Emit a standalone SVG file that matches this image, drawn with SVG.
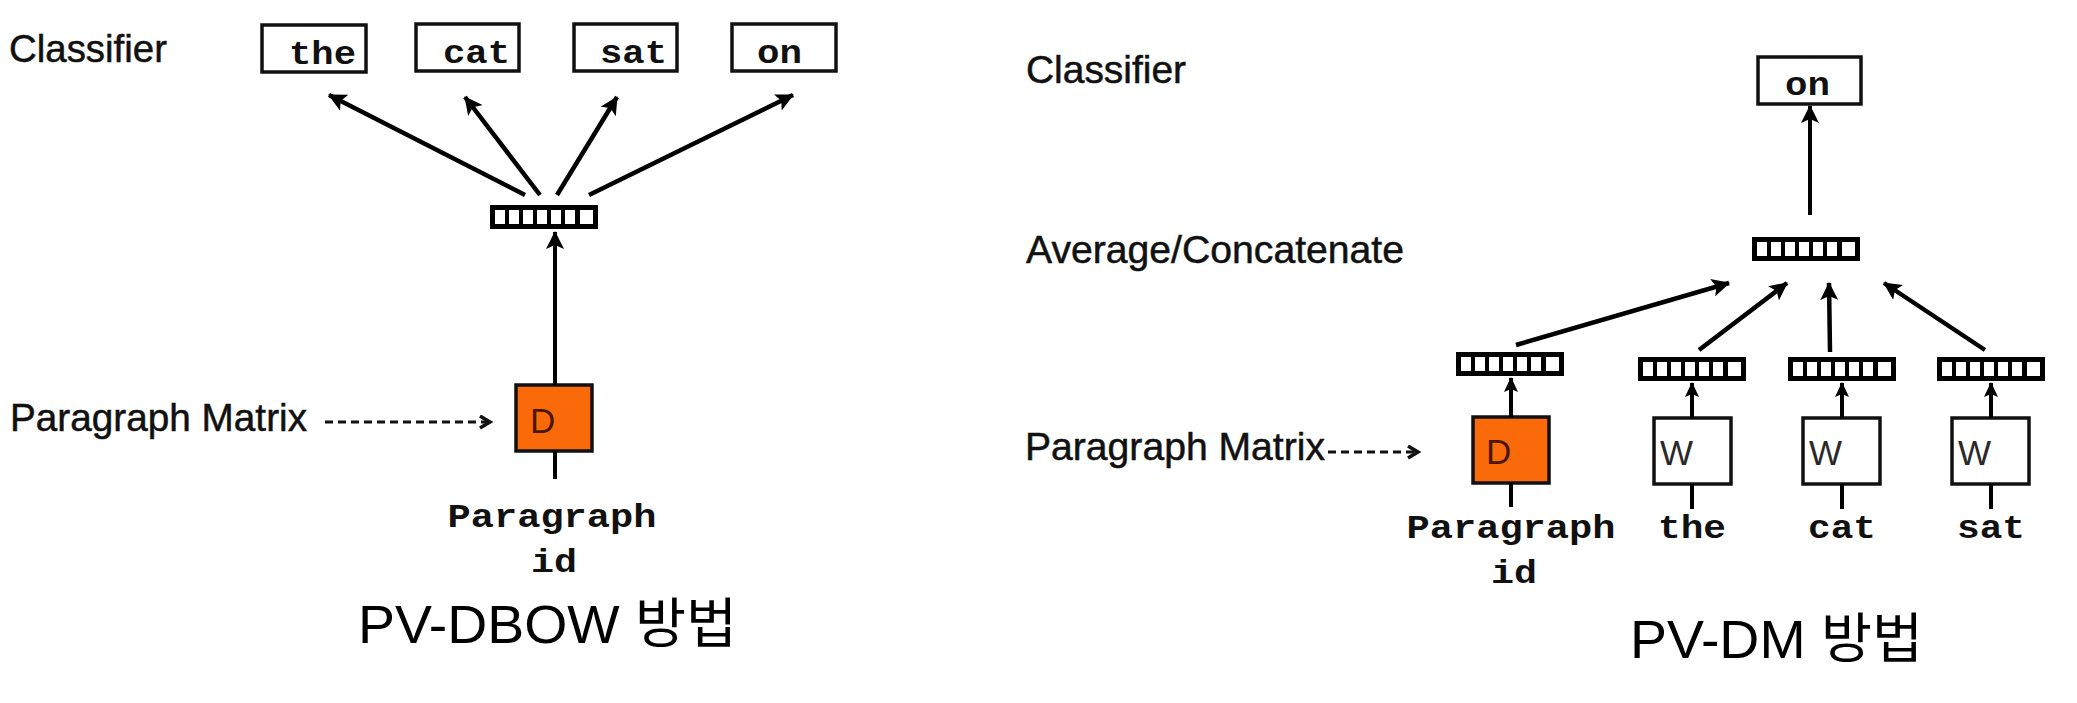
<svg xmlns="http://www.w3.org/2000/svg" width="2077" height="703" viewBox="0 0 2077 703">
<style>
.lbl{font-family:"Liberation Sans",Arial,sans-serif;font-size:38px;fill:#111;stroke:#111;stroke-width:0.5}
.mono{font-family:"Liberation Mono","Courier New",monospace;font-weight:bold;font-size:34px;fill:#111}
.title{font-family:"Liberation Sans","Noto Sans CJK KR",sans-serif;font-size:54px;fill:#000}
.wbox{fill:#fff;stroke:#111;stroke-width:3.5}
.dbox{fill:#fa6a0a;stroke:#111;stroke-width:3.5}
.ebox{fill:#fff;stroke:#111;stroke-width:3.5}
.conn{stroke:#000;stroke-width:4.5;fill:none}
.thin{stroke:#000;stroke-width:4;fill:none}
.dash{stroke:#111;stroke-width:3;stroke-dasharray:8 5;fill:none}
.letter{font-family:"Liberation Sans",Arial,sans-serif;font-size:35px}
</style>
<defs>
<marker id="ah" markerUnits="userSpaceOnUse" markerWidth="20" markerHeight="18" refX="17" refY="9" orient="auto"><path d="M0,0 L18,9 L0,18 L4,9 z" fill="#000"/></marker>
<marker id="ahs" markerUnits="userSpaceOnUse" markerWidth="16" markerHeight="16" refX="14" refY="7" orient="auto"><path d="M0,0 L15,7 L0,14 L3,7 z" fill="#000"/></marker>
<marker id="chev" markerUnits="userSpaceOnUse" markerWidth="14" markerHeight="16" refX="11" refY="7" orient="auto"><path d="M1,1 L11,7 L1,13" fill="none" stroke="#111" stroke-width="3.5"/></marker>
<g id="vec">
<rect x="0" y="0" width="108" height="24" fill="#000"/>
<rect x="5" y="5" width="10" height="14" fill="#fff"/>
<rect x="19" y="5" width="10" height="14" fill="#fff"/>
<rect x="33" y="5" width="10" height="14" fill="#fff"/>
<rect x="47" y="5" width="10" height="14" fill="#fff"/>
<rect x="61" y="5" width="10" height="14" fill="#fff"/>
<rect x="75" y="5" width="10" height="14" fill="#fff"/>
<rect x="89" y="5" width="14" height="14" fill="#fff"/>
<rect x="88" y="5" width="2" height="14" fill="#000"/>
</g>
</defs>
<rect width="2077" height="703" fill="#fff"/>

<!-- Left: PV-DBOW -->
<g id="labels-left">
<text class="lbl" x="9" y="62" textLength="158" lengthAdjust="spacingAndGlyphs">Classifier</text>
<text class="lbl" x="10" y="431" textLength="297" lengthAdjust="spacingAndGlyphs">Paragraph Matrix</text>
</g>
<g id="l-the"><rect class="wbox" x="262" y="25" width="104" height="47"/><text class="mono" x="289" y="64" textLength="67" lengthAdjust="spacingAndGlyphs">the</text></g>
<g id="l-cat"><rect class="wbox" x="416" y="24" width="103" height="47"/><text class="mono" x="443" y="63" textLength="67" lengthAdjust="spacingAndGlyphs">cat</text></g>
<g id="l-sat"><rect class="wbox" x="574" y="24" width="103" height="47"/><text class="mono" x="600" y="63" textLength="67" lengthAdjust="spacingAndGlyphs">sat</text></g>
<g id="l-on"><rect class="wbox" x="732" y="24" width="104" height="47"/><text class="mono" x="757" y="63" textLength="45" lengthAdjust="spacingAndGlyphs">on</text></g>
<g id="l-vec"><use href="#vec" x="490" y="205"/></g>
<g id="l-D"><rect class="dbox" x="516" y="385" width="76" height="66"/><text class="letter" x="530" y="433" fill="#4a1600">D</text></g>
<g id="l-pid">
<text class="mono" x="552" y="527" text-anchor="middle" textLength="209" lengthAdjust="spacingAndGlyphs">Paragraph</text>
<text class="mono" x="554" y="572" text-anchor="middle" textLength="46" lengthAdjust="spacingAndGlyphs">id</text>
</g>
<g id="l-title"><text class="title" x="358" y="643" textLength="379" lengthAdjust="spacingAndGlyphs">PV-DBOW 방법</text></g>

<!-- Right: PV-DM -->
<g id="labels-right">
<text class="lbl" x="1026" y="83" textLength="160" lengthAdjust="spacingAndGlyphs">Classifier</text>
<text class="lbl" x="1026" y="263" textLength="378" lengthAdjust="spacingAndGlyphs">Average/Concatenate</text>
<text class="lbl" x="1025" y="460" textLength="300" lengthAdjust="spacingAndGlyphs">Paragraph Matrix</text>
</g>
<g id="r-on"><rect class="wbox" x="1758" y="57" width="103" height="47"/><text class="mono" x="1785" y="95" textLength="45" lengthAdjust="spacingAndGlyphs">on</text></g>
<g id="r-vec"><use href="#vec" x="1752" y="237"/></g>
<g id="r-vp"><use href="#vec" x="1456" y="352"/></g>
<g id="r-vthe"><use href="#vec" x="1638" y="357"/></g>
<g id="r-vcat"><use href="#vec" x="1788" y="357"/></g>
<g id="r-vsat"><use href="#vec" x="1937" y="357"/></g>
<g id="r-D"><rect class="dbox" x="1473" y="417" width="76" height="66"/><text class="letter" x="1486" y="464" fill="#4a1600">D</text></g>
<g id="r-Wthe"><rect class="ebox" x="1654" y="418" width="77" height="66"/><text class="letter" x="1660" y="465" fill="#2a2a2a">W</text></g>
<g id="r-Wcat"><rect class="ebox" x="1803" y="418" width="77" height="66"/><text class="letter" x="1809" y="465" fill="#2a2a2a">W</text></g>
<g id="r-Wsat"><rect class="ebox" x="1952" y="418" width="77" height="66"/><text class="letter" x="1958" y="465" fill="#2a2a2a">W</text></g>
<g id="r-words">
<text class="mono" x="1511" y="538" text-anchor="middle" textLength="209" lengthAdjust="spacingAndGlyphs">Paragraph</text>
<text class="mono" x="1514" y="583" text-anchor="middle" textLength="46" lengthAdjust="spacingAndGlyphs">id</text>
<text class="mono" x="1692" y="538" text-anchor="middle" textLength="68" lengthAdjust="spacingAndGlyphs">the</text>
<text class="mono" x="1842" y="538" text-anchor="middle" textLength="68" lengthAdjust="spacingAndGlyphs">cat</text>
<text class="mono" x="1991" y="538" text-anchor="middle" textLength="68" lengthAdjust="spacingAndGlyphs">sat</text>
</g>
<g id="r-title"><text class="title" x="1630" y="658" textLength="293" lengthAdjust="spacingAndGlyphs">PV-DM 방법</text></g>

<g id="connectors">
<line class="conn" x1="525" y1="195" x2="329" y2="95" marker-end="url(#ah)"/>
<line class="conn" x1="540" y1="195" x2="465" y2="97" marker-end="url(#ah)"/>
<line class="conn" x1="557" y1="195" x2="617" y2="97" marker-end="url(#ah)"/>
<line class="conn" x1="589" y1="195" x2="793" y2="95" marker-end="url(#ah)"/>
<line class="thin" x1="555" y1="385" x2="555" y2="232" marker-end="url(#ah)"/>
<line class="thin" x1="555" y1="451" x2="555" y2="479"/>
<line class="dash" x1="325" y1="422" x2="490" y2="422" marker-end="url(#chev)"/>

<line class="thin" x1="1810" y1="215" x2="1810" y2="106" marker-end="url(#ah)"/>
<line class="conn" x1="1516" y1="345" x2="1729" y2="283" marker-end="url(#ah)"/>
<line class="conn" x1="1699" y1="350" x2="1787" y2="283" marker-end="url(#ah)"/>
<line class="conn" x1="1830" y1="352" x2="1829" y2="283" marker-end="url(#ah)"/>
<line class="conn" x1="1985" y1="350" x2="1884" y2="283" marker-end="url(#ah)"/>
<line class="thin" x1="1511" y1="417" x2="1511" y2="378" marker-end="url(#ahs)"/>
<line class="thin" x1="1692" y1="418" x2="1692" y2="383" marker-end="url(#ahs)"/>
<line class="thin" x1="1842" y1="418" x2="1842" y2="383" marker-end="url(#ahs)"/>
<line class="thin" x1="1991" y1="418" x2="1991" y2="383" marker-end="url(#ahs)"/>
<line class="thin" x1="1511" y1="483" x2="1511" y2="507"/>
<line class="thin" x1="1692" y1="484" x2="1692" y2="509"/>
<line class="thin" x1="1842" y1="484" x2="1842" y2="509"/>
<line class="thin" x1="1991" y1="484" x2="1991" y2="509"/>
<line class="dash" x1="1328" y1="452" x2="1418" y2="452" marker-end="url(#chev)"/>
</g>
</svg>
